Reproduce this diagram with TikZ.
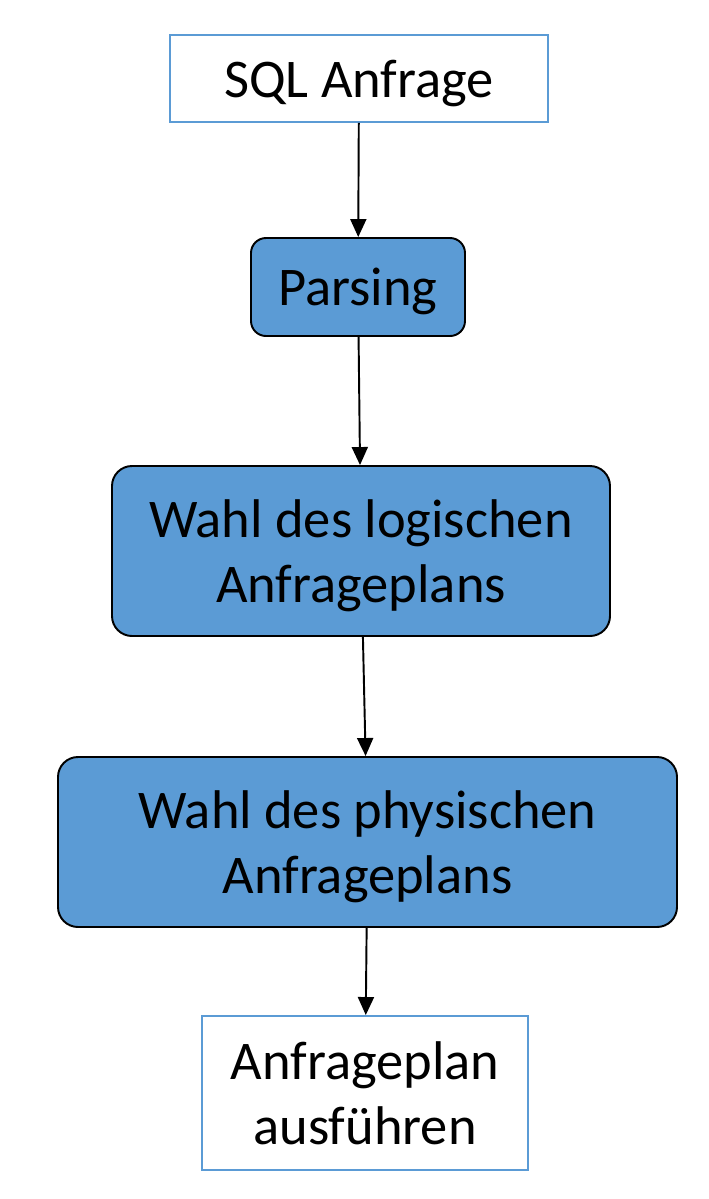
\documentclass[tikz,border=0pt]{standalone}
\usepackage{fontspec}
\setmainfont{Carlito}
\usetikzlibrary{arrows.meta,positioning}
\definecolor{boxblue}{HTML}{5B9BD5}

\begin{document}
\begin{tikzpicture}[
  plain/.style={rectangle, draw=boxblue, line width=1.1pt, fill=white,
                font=\fontsize{31}{37}\selectfont, align=center, inner sep=0pt,
                text depth=0pt},
  stage/.style={rectangle, draw=black, line width=1.1pt, fill=boxblue,
                rounded corners=0.4cm, font=\fontsize{31}{37}\selectfont,
                align=center, inner sep=0pt, text depth=0pt},
  arr/.style={-{Triangle[length=0.36cm, width=0.32cm]}, line width=1.1pt}
]
\useasboundingbox (0,0) rectangle (14.16,-23.98);

\node[plain, minimum width=7.56cm, minimum height=1.74cm] (query) at (7.18,-1.57) {SQL Anfrage};
\node[stage, rounded corners=0.3cm, minimum width=4.28cm, minimum height=1.96cm] (parse) at (7.16,-5.74) {Parsing};
\node[stage, minimum width=9.96cm, minimum height=3.4cm] (logplan) at (7.22,-11.02) {Wahl des logischen\\Anfrageplans};
\node[stage, minimum width=12.38cm, minimum height=3.4cm] (physplan) at (7.35,-16.84) {Wahl des physischen\\Anfrageplans};
\node[plain, minimum width=6.52cm, minimum height=3.08cm] (exec) at (7.30,-21.86) {Anfrageplan\\ausführen};

\draw[arr] (query) -- (parse);
\draw[arr] (parse) -- (logplan);
\draw[arr] (logplan) -- (physplan);
\draw[arr] (physplan) -- (exec);
\end{tikzpicture}
\end{document}
